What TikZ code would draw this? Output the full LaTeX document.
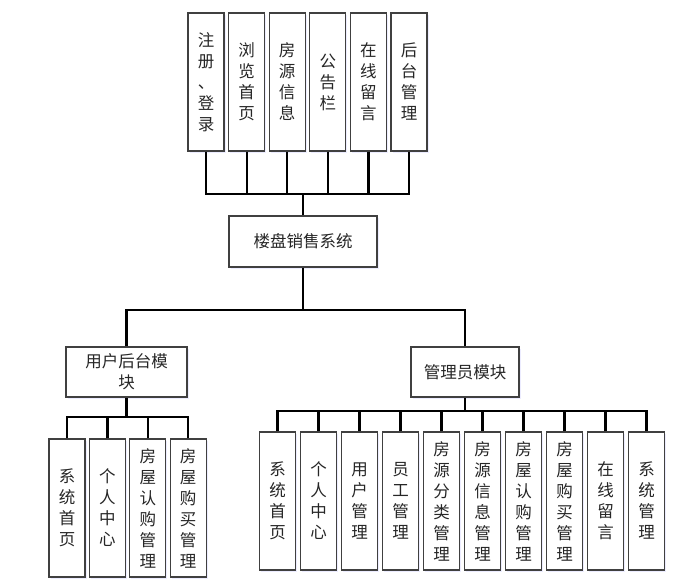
\documentclass[tikz,border=0pt]{standalone}
\usepackage{fontspec}
\setmainfont{Noto Sans CJK SC}
\usetikzlibrary{shadows}
\tikzset{box/.style={draw=black!75, line width=1.1pt, fill=white, inner sep=0pt,
            align=center, text=black!85, font=\fontsize{16.5}{21}\selectfont,
            drop shadow={shadow xshift=1.5pt, shadow yshift=-2pt, fill=blue!30, opacity=0.25}},
         vbox/.style={box, minimum width=36, minimum height=138},
         link/.style={line width=2.2pt, black}}

\begin{document}
\begin{tikzpicture}[x=1pt,y=-1pt]
\useasboundingbox (0,0) rectangle (700,586);
% top row
\foreach \i/\txt in {1/{注\\册\\、\\登\\录}, 2/{浏\\览\\首\\页}, 3/{房\\源\\信\\息},
                     4/{公\\告\\栏}, 5/{在\\线\\留\\言}, 6/{后\\台\\管\\理}}
    \node [vbox] (t\i) at ({206+40.6*(\i-1)},82) {\txt};
\node [box, minimum width=148, minimum height=51] (sys) at (303,241.5) {楼盘销售系统};
%
\node [box, minimum width=121, minimum height=50] (user) at (126.5,372) {用户后台模\\块};
\node [box, minimum width=108, minimum height=50] (admin) at (465,372) {管理员模块};
% user children
\foreach \i/\txt in {1/{系\\统\\首\\页}, 2/{个\\人\\中\\心}, 3/{房\\屋\\认\\购\\管\\理},
                     4/{房\\屋\\购\\买\\管\\理}}
    \node [vbox] (u\i) at ({67+40.4*(\i-1)},508) {\txt};
% admin children
\foreach \i/\txt in {1/{系\\统\\首\\页}, 2/{个\\人\\中\\心}, 3/{用\\户\\管\\理},
                     4/{员\\工\\管\\理}, 5/{房\\源\\分\\类\\管\\理}, 6/{房\\源\\信\\息\\管\\理},
                     7/{房\\屋\\认\\购\\管\\理}, 8/{房\\屋\\购\\买\\管\\理},
                     9/{在\\线\\留\\言}, 10/{系\\统\\管\\理}}
    \node [vbox] (a\i) at ({277.5+41*(\i-1)},501) {\txt};
%
\coordinate (topbar) at (303,194);
\coordinate (midbar) at (303,310);
\coordinate (userbar) at (126.5,417);
\coordinate (adminbar) at (465,411);
\foreach \i in {1,...,6}
    \draw [link] (t\i.south) |- (topbar);
\draw [link] (topbar) -- (sys.north);
\draw [link] (sys.south) -- (midbar);
\draw [link] (user.north) |- (midbar);
\draw [link] (admin.north) |- (midbar);
\foreach \i in {1,...,4}
    \draw [link] (u\i.north) |- (userbar);
\draw [link] (userbar) -- (user.south);
\foreach \i in {1,...,10}
    \draw [link] (a\i.north) |- (adminbar);
\draw [link] (adminbar) -- (admin.south);
\end{tikzpicture}
\end{document}
